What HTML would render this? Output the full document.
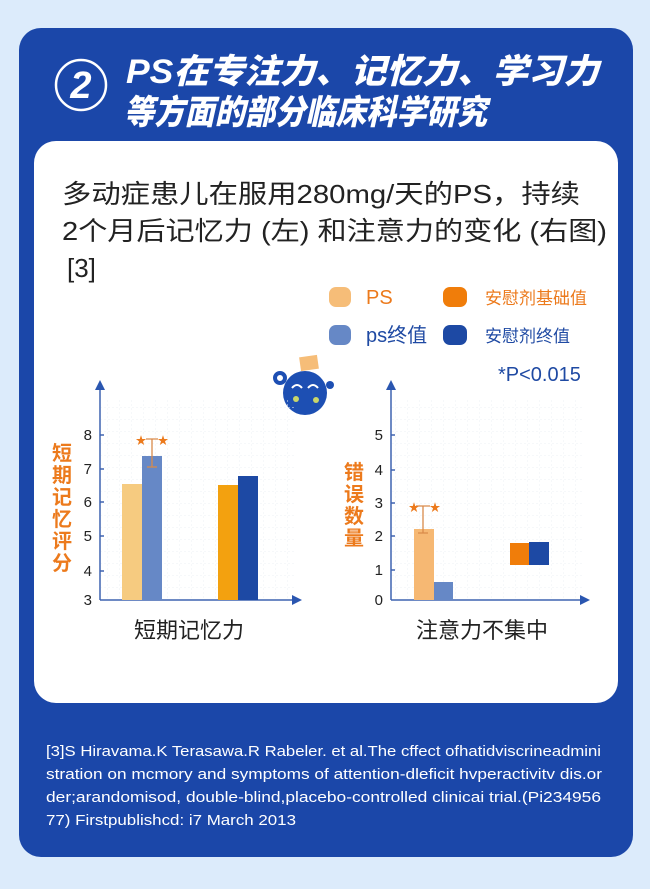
<!DOCTYPE html>
<html><head><meta charset="utf-8"><style>
html,body{margin:0;padding:0;background:#dcebfb;}
body{width:650px;height:889px;position:relative;overflow:hidden;font-family:"Liberation Sans","Noto Sans CJK SC",sans-serif;}
</style></head><body>
<svg width="650" height="889" viewBox="0 0 650 889" xmlns="http://www.w3.org/2000/svg" style="position:absolute;left:0;top:0">
<defs>
<pattern id="g" width="12" height="12" patternUnits="userSpaceOnUse"><path d="M12 0V12M0 12H12" stroke="#eef0f6" stroke-width="1" stroke-dasharray="2 2"/></pattern>
</defs>
<rect x="0" y="0" width="650" height="889" fill="#dcebfb"/>
<rect x="19" y="28" width="614" height="829" rx="22" fill="#1b47a9"/>
<!-- header -->
<circle cx="81" cy="85" r="25" fill="none" stroke="#fff" stroke-width="2.5"/>
<text x="81" y="98" font-size="38" font-weight="bold" font-style="italic" fill="#fff" text-anchor="middle" font-family="Liberation Sans, sans-serif">2</text>
<g font-family="Liberation Sans, Noto Sans CJK SC, sans-serif" font-weight="900" font-size="34" fill="#fff" font-style="italic">
<text x="126" y="83" textLength="473" lengthAdjust="spacingAndGlyphs">PS在专注力、记忆力、学习力</text>
<text x="124" y="124" textLength="363" lengthAdjust="spacingAndGlyphs">等方面的部分临床科学研究</text>
</g>
<!-- white card -->
<rect x="34" y="141" width="584" height="562" rx="22" fill="#fff"/>
<g font-size="26" fill="#222">
<text x="62" y="203" textLength="518" lengthAdjust="spacingAndGlyphs">多动症患儿在服用280mg/天的PS，持续</text>
<text x="62" y="240" textLength="545" lengthAdjust="spacingAndGlyphs">2个月后记忆力 (左) 和注意力的变化 (右图)</text>
<text x="67" y="277">[3]</text>
</g>
<!-- legend -->
<rect x="329" y="287" width="22" height="20" rx="7" fill="#f6bd78"/>
<text x="366" y="304" font-size="20" fill="#ec7a1c">PS</text>
<rect x="443" y="287" width="24" height="20" rx="7" fill="#f07d0a"/>
<text x="485" y="304" font-size="17" fill="#ec7a1c">安慰剂基础值</text>
<rect x="329" y="325" width="22" height="20" rx="7" fill="#6688c6"/>
<text x="366" y="342" font-size="20" fill="#1f4aa3">ps终值</text>
<rect x="443" y="325" width="24" height="20" rx="7" fill="#1d49a4"/>
<text x="485" y="342" font-size="17" fill="#1f4aa3">安慰剂终值</text>
<text x="498" y="381" font-size="20" fill="#1f4aa3">*P&lt;0.015</text>
<!-- mascot -->
<rect x="300" y="356" width="18" height="14" fill="#f6bd78" transform="rotate(-8 309 363)"/>
<circle cx="305" cy="393" r="22" fill="#1d4fb3"/>
<circle cx="280" cy="378" r="5" fill="none" stroke="#1d4fb3" stroke-width="4"/>
<circle cx="330" cy="385" r="4" fill="#1d4fb3"/>
<path d="M292 388q5-6 10 0M308 388q5-6 10 0" stroke="#fff" stroke-width="2" fill="none"/>
<circle cx="296" cy="399" r="3" fill="#c9d66a"/><circle cx="316" cy="400" r="3" fill="#c9d66a"/>
<!-- left chart -->
<rect x="101" y="400" width="195" height="200" fill="url(#g)"/>
<line x1="100" y1="600" x2="100" y2="388" stroke="#3f63b0" stroke-width="1.5"/>
<path d="M95 390L100 380L105 390Z" fill="#2a56b0"/>
<line x1="100" y1="600" x2="295" y2="600" stroke="#3f63b0" stroke-width="1.5"/>
<path d="M292 595L302 600L292 605Z" fill="#2a56b0"/>
<g stroke="#3f63b0" stroke-width="1.5"><line x1="100" y1="435" x2="104" y2="435"/><line x1="100" y1="469" x2="104" y2="469"/><line x1="100" y1="502" x2="104" y2="502"/><line x1="100" y1="536" x2="104" y2="536"/><line x1="100" y1="571" x2="104" y2="571"/></g>
<g font-size="15" fill="#222" text-anchor="end"><text x="92" y="440">8</text><text x="92" y="474">7</text><text x="92" y="507">6</text><text x="92" y="541">5</text><text x="92" y="576">4</text><text x="92" y="605">3</text></g>
<g font-size="20" fill="#ec7a1c" font-weight="bold" text-anchor="middle"><text x="62" y="460">短</text><text x="62" y="482">期</text><text x="62" y="504">记</text><text x="62" y="526">忆</text><text x="62" y="548">评</text><text x="62" y="570">分</text></g>
<rect x="122" y="484" width="20" height="116" fill="#f6cb80"/>
<rect x="142" y="456" width="20" height="144" fill="#6688c6"/>
<rect x="218" y="485" width="20" height="115" fill="#f3a10f"/>
<rect x="238" y="476" width="20" height="124" fill="#1d49a4"/>
<path d="M146 439H158M152 439V467M147 467H157" stroke="#d98a4a" stroke-width="1.3" fill="none"/>
<text x="141" y="444" font-size="11" fill="#ec7a1c" text-anchor="middle">★</text><text x="163" y="444" font-size="11" fill="#ec7a1c" text-anchor="middle">★</text>
<text x="189" y="638" font-size="22" fill="#222" text-anchor="middle">短期记忆力</text>
<!-- right chart -->
<rect x="392" y="400" width="192" height="200" fill="url(#g)"/>
<line x1="391" y1="600" x2="391" y2="388" stroke="#3f63b0" stroke-width="1.5"/>
<path d="M386 390L391 380L396 390Z" fill="#2a56b0"/>
<line x1="391" y1="600" x2="583" y2="600" stroke="#3f63b0" stroke-width="1.5"/>
<path d="M580 595L590 600L580 605Z" fill="#2a56b0"/>
<g stroke="#3f63b0" stroke-width="1.5"><line x1="391" y1="435" x2="395" y2="435"/><line x1="391" y1="470" x2="395" y2="470"/><line x1="391" y1="503" x2="395" y2="503"/><line x1="391" y1="536" x2="395" y2="536"/><line x1="391" y1="570" x2="395" y2="570"/></g>
<g font-size="15" fill="#222" text-anchor="end"><text x="383" y="440">5</text><text x="383" y="475">4</text><text x="383" y="508">3</text><text x="383" y="541">2</text><text x="383" y="575">1</text><text x="383" y="605">0</text></g>
<g font-size="20" fill="#ec7a1c" font-weight="bold" text-anchor="middle"><text x="354" y="479">错</text><text x="354" y="501">误</text><text x="354" y="523">数</text><text x="354" y="545">量</text></g>
<rect x="414" y="529" width="20" height="71" fill="#f6b873"/>
<rect x="434" y="582" width="19" height="18" fill="#6688c6"/>
<rect x="510" y="543" width="19" height="22" fill="#f07d0a"/>
<rect x="529" y="542" width="20" height="23" fill="#1d49a4"/>
<path d="M416 506H430M423 506V533M418 533H428" stroke="#d98a4a" stroke-width="1.3" fill="none"/>
<text x="414" y="511" font-size="11" fill="#ec7a1c" text-anchor="middle">★</text><text x="435" y="511" font-size="11" fill="#ec7a1c" text-anchor="middle">★</text>
<text x="482" y="638" font-size="22" fill="#222" text-anchor="middle">注意力不集中</text>
<!-- footer -->
<g font-size="15" fill="#fff">
<text x="46" y="756" textLength="555" lengthAdjust="spacingAndGlyphs">[3]S Hiravama.K Terasawa.R Rabeler. et al.The cffect ofhatidviscrineadmini</text>
<text x="46" y="779" textLength="556" lengthAdjust="spacingAndGlyphs">stration on mcmory and symptoms of attention-dleficit hvperactivitv dis.or</text>
<text x="46" y="802" textLength="555" lengthAdjust="spacingAndGlyphs">der;arandomisod, double-blind,placebo-controlled clinicai trial.(Pi234956</text>
<text x="46" y="825" textLength="250" lengthAdjust="spacingAndGlyphs">77) Firstpublishcd: i7 March 2013</text>
</g>
</svg>
</body></html>
